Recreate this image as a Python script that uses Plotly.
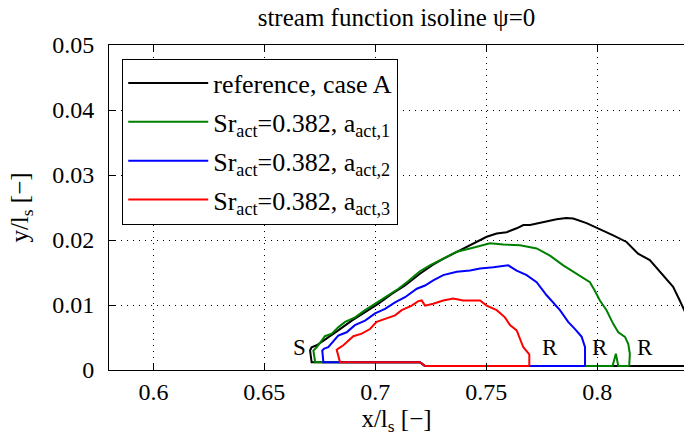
import plotly.graph_objects as go

# ---- data ----
ref_x = [0.845, 0.7224, 0.7201, 0.6713, 0.6706, 0.6713, 0.6736, 0.6788, 0.6833, 0.6894, 0.6954,
         0.7014, 0.7074, 0.7134, 0.7201, 0.7260, 0.7306, 0.7351, 0.7396, 0.7427, 0.7472, 0.7502,
         0.7547, 0.7592, 0.7637, 0.7667, 0.7697, 0.7757, 0.7817, 0.7860, 0.7892, 0.7952, 0.8005,
         0.8072, 0.8132, 0.8184, 0.8237, 0.8297, 0.8342, 0.8372, 0.8395, 0.8420]
ref_y = [0.0006, 0.0006, 0.0012, 0.0012, 0.0030, 0.0035, 0.0038, 0.0050, 0.0061, 0.0076, 0.0089,
         0.0102, 0.0117, 0.0130, 0.0148, 0.0162, 0.0171, 0.0179, 0.0187, 0.0192, 0.0200, 0.0205,
         0.0210, 0.0212, 0.0218, 0.0223, 0.0223, 0.0228, 0.0232, 0.0234, 0.0233, 0.0226, 0.0218,
         0.0207, 0.0197, 0.0179, 0.0169, 0.0146, 0.0128, 0.0107, 0.0090, 0.0060]

a1_x = [0.8144, 0.8095, 0.8084, 0.8069, 0.7224, 0.7201, 0.6729, 0.6721, 0.6736, 0.6759, 0.6773,
        0.6804, 0.6834, 0.6864, 0.6909, 0.6954, 0.6999, 0.7044, 0.7104, 0.7149, 0.7201, 0.7246,
        0.7307, 0.7367, 0.7427, 0.7486, 0.7517, 0.7577, 0.7652, 0.7727, 0.7787, 0.7847, 0.7892,
        0.7937, 0.7967, 0.7989, 0.8012, 0.8042, 0.8072, 0.8095, 0.8125, 0.8140, 0.8147, 0.8144]
a1_y = [0.0006, 0.0006, 0.0025, 0.0006, 0.0006, 0.0012, 0.0012, 0.0030, 0.0035, 0.0045, 0.0052,
        0.0056, 0.0066, 0.0074, 0.0081, 0.0092, 0.0102, 0.0112, 0.0125, 0.0137, 0.0152, 0.0161,
        0.0171, 0.0182, 0.0187, 0.0192, 0.0195, 0.0193, 0.0192, 0.0187, 0.0176, 0.0161, 0.0151,
        0.0141, 0.0135, 0.0122, 0.0107, 0.0092, 0.0071, 0.0058, 0.0051, 0.0040, 0.0025, 0.0006]

a2_x = [0.7945, 0.7224, 0.7201, 0.6766, 0.6761, 0.6770, 0.6788, 0.6811, 0.6833, 0.6871, 0.6908,
        0.6954, 0.6999, 0.7044, 0.7089, 0.7134, 0.7187, 0.7224, 0.7261, 0.7306, 0.7367, 0.7427,
        0.7472, 0.7532, 0.7599, 0.7637, 0.7682, 0.7727, 0.7772, 0.7832, 0.7869, 0.7900, 0.7930,
        0.7945, 0.7945]
a2_y = [0.0006, 0.0006, 0.0012, 0.0012, 0.0030, 0.0033, 0.0035, 0.0045, 0.0053, 0.0058, 0.0069,
        0.0076, 0.0087, 0.0094, 0.0104, 0.0112, 0.0125, 0.0130, 0.0138, 0.0146, 0.0151, 0.0153,
        0.0156, 0.0158, 0.0161, 0.0153, 0.0146, 0.0135, 0.0115, 0.0092, 0.0074, 0.0063, 0.0051,
        0.0035, 0.0006]

a3_x = [0.7694, 0.7224, 0.7201, 0.6841, 0.6826, 0.6833, 0.6856, 0.6878, 0.6901, 0.6939, 0.6976,
        0.7006, 0.7044, 0.7089, 0.7119, 0.7164, 0.7194, 0.7209, 0.7224, 0.7261, 0.7306, 0.7351,
        0.7396, 0.7472, 0.7502, 0.7547, 0.7584, 0.7607, 0.7637, 0.7667, 0.7694, 0.7694]
a3_y = [0.0006, 0.0006, 0.0012, 0.0012, 0.0031, 0.0033, 0.0038, 0.0045, 0.0052, 0.0056, 0.0063,
        0.0074, 0.0079, 0.0084, 0.0092, 0.0099, 0.0106, 0.0107, 0.0099, 0.0102, 0.0107, 0.0110,
        0.0107, 0.0107, 0.0099, 0.0092, 0.0081, 0.0069, 0.0061, 0.0035, 0.0024, 0.0006]

series_names = ["reference, case A",
                "Sr<sub>act</sub>=0.382, a<sub>act,1</sub>",
                "Sr<sub>act</sub>=0.382, a<sub>act,2</sub>",
                "Sr<sub>act</sub>=0.382, a<sub>act,3</sub>"]
series_colors = ["#000000", "#008000", "#0000ff", "#ff0000"]

label_text = ["S", "R", "R", "R"]
label_x = [0.6657, 0.7787, 0.8012, 0.8215]
label_y = [0.0035, 0.0035, 0.0035, 0.0035]

x_ticks = [0.6, 0.65, 0.7, 0.75, 0.8]
x_tick_text = ["0.6", "0.65", "0.7", "0.75", "0.8"]
y_ticks = [0, 0.01, 0.02, 0.03, 0.04, 0.05]
y_tick_text = ["0", "0.01", "0.02", "0.03", "0.04", "0.05"]

FONT = "Liberation Serif"

fig = go.Figure()
for i, (xs, ys, name, col) in enumerate(zip([ref_x, a1_x, a2_x, a3_x], [ref_y, a1_y, a2_y, a3_y],
                                            series_names, series_colors)):
    fig.add_trace(go.Scatter(x=xs, y=ys, mode="lines", name=name, legendgroup=f"g{i}",
                             line=dict(color=col, width=2)))

for t, lx, ly in zip(label_text, label_x, label_y):
    fig.add_annotation(x=lx, y=ly, text=t, showarrow=False, xref="x", yref="y",
                       font=dict(family=FONT, size=23, color="black"))

fig.update_layout(
    width=684, height=447,
    margin=dict(l=109, r=0, t=45, b=77),
    paper_bgcolor="white", plot_bgcolor="white",
    font=dict(family=FONT, size=24, color="black"),
    title=dict(text="stream function isoline ψ=0", x=0.5, xref="paper",
               y=0.962, yref="container", yanchor="middle",
               font=dict(family=FONT, size=25, color="black")),
    showlegend=True,
    legend=dict(x=0.023, y=0.958, xanchor="left", yanchor="top",
                bgcolor="white", bordercolor="black", borderwidth=1,
                font=dict(family=FONT, size=26, color="black"),
                tracegroupgap=2, itemwidth=80),
)
fig.update_xaxes(range=[0.58, 0.8391], tickvals=x_ticks, ticktext=x_tick_text,
                 tickfont=dict(family=FONT, size=24, color="black"),
                 showline=True, linecolor="black", linewidth=1, mirror="ticks",
                 ticks="inside", ticklen=6, tickcolor="black", ticklabelstandoff=0,
                 showgrid=True, gridcolor="black", gridwidth=1, griddash="1px,5px",
                 zeroline=False,
                 title=dict(text="x/l<sub>s</sub> [−]", standoff=4,
                            font=dict(family=FONT, size=25, color="black")))
fig.update_yaxes(range=[0, 0.05], tickvals=y_ticks, ticktext=y_tick_text,
                 tickfont=dict(family=FONT, size=24, color="black"),
                 showline=True, linecolor="black", linewidth=1, mirror=False,
                 ticks="inside", ticklen=6, tickcolor="black", ticklabelstandoff=9,
                 showgrid=True, gridcolor="black", gridwidth=1, griddash="1px,5px",
                 zeroline=False,
                 title=dict(text="y/l<sub>s</sub> [−]", standoff=16,
                            font=dict(family=FONT, size=25, color="black")))

fig.write_html("out.html")
